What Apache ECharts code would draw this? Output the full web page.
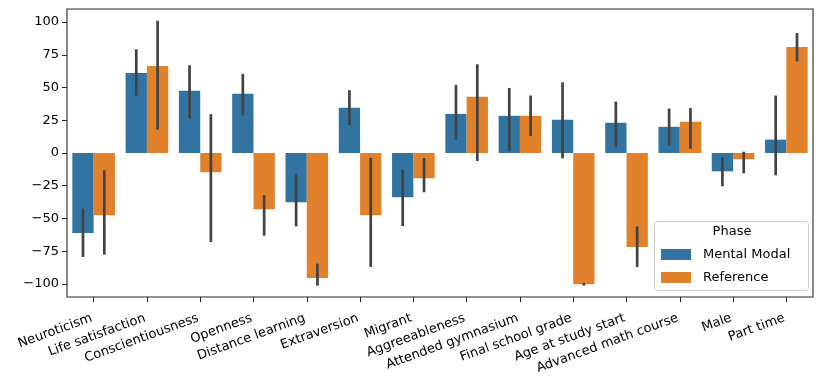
<!DOCTYPE html>
<html><head><meta charset="utf-8">
<script src="https://cdn.jsdelivr.net/npm/echarts@6/dist/echarts.min.js"></script>
<style>html,body{margin:0;padding:0;background:#fff}#c{width:816px;height:379px}</style>
</head><body><div id="c"></div>
<script>
const categories = ["Neuroticism","Life satisfaction","Conscientiousness","Openness","Distance learning","Extraversion","Migrant","Aggreeableness","Attended gymnasium","Final school grade","Age at study start","Advanced math course","Male","Part time"];
const mentalModal = [-61.2, 61.2, 47.5, 45.2, -37.6, 34.5, -33.8, 29.9, 28.4, 25.4, 23.1, 20.0, -14.0, 10.2];
const mentalLow   = [-79.4, 43.7, 26.4, 28.7, -56.1, 21.3, -55.8, 10.2, 1.3, -4.1, 4.3, 5.8, -25.4, -17.0];
const mentalHigh  = [-42.5, 79.2, 67.0, 60.4, -16.0, 48.0, -12.7, 52.0, 49.7, 54.0, 39.3, 34.0, -3.3, 43.9];
const reference   = [-47.5, 66.5, -14.7, -42.9, -95.4, -47.5, -19.3, 42.9, 28.4, -100.3, -71.8, 23.9, -4.8, 81.0];
const refLow      = [-77.7, 17.8, -68.0, -63.2, -101.3, -87.0, -30.0, -6.1, 12.9, -101.3, -87.0, 3.3, -15.5, 70.0];
const refHigh     = [-13.2, 101.0, 29.7, -32.2, -84.5, -3.6, -3.8, 67.8, 43.9, -99.2, -56.1, 34.3, 1.0, 91.6];
const yTicks = [-100, -75, -50, -25, 0, 25, 50, 75, 100];
const seriesNames = ["Mental Modal", "Reference"];

const FONT = "DejaVu Sans";
const chart = echarts.init(document.getElementById('c'), null, {renderer: 'canvas'});

function errSeries(low, high, side) {
  return {
    type: 'custom',
    silent: true,
    z: 5,
    data: low.map((l, i) => [i, l, high[i]]),
    encode: {x: 0, y: [1, 2]},
    renderItem: function (params, api) {
      const i = api.value(0);
      const w = api.size([1, 0])[0];
      const p1 = api.coord([i, api.value(1)]);
      const p2 = api.coord([i, api.value(2)]);
      const x = p1[0] + side * 0.2 * w;
      return {
        type: 'line',
        shape: {x1: x, y1: p1[1], x2: x, y2: p2[1]},
        style: {stroke: '#424242', lineWidth: 2.7}
      };
    }
  };
}

chart.setOption({
  animation: false,
  textStyle: {fontFamily: FONT},
  grid: {left: 67, right: 3, top: 9, bottom: 82, show: true, borderColor: '#262626', borderWidth: 1.1, backgroundColor: 'transparent'},
  xAxis: {
    type: 'category',
    data: categories,
    axisLine: {show: false, onZero: false},
    axisTick: {show: true, alignWithLabel: true, length: 5, lineStyle: {color: '#262626', width: 1}},
    axisLabel: {rotate: 20, fontSize: 13, color: '#000', fontFamily: FONT, margin: 20, interval: 0, padding: [0, 2, 0, 0]}
  },
  yAxis: {
    type: 'value',
    min: -110, max: 110,
    splitLine: {show: false},
    axisLine: {show: false},
    axisTick: {show: true, length: 5, customValues: yTicks, lineStyle: {color: '#262626', width: 1}},
    axisLabel: {fontSize: 13, color: '#000', fontFamily: FONT, margin: 8, customValues: yTicks,
      formatter: v => v < 0 ? '\u2212' + Math.abs(v) : String(v)}
  },
  legend: {
    orient: 'vertical',
    left: 661, top: 248, padding: 0,
    itemWidth: 30, itemHeight: 11, itemGap: 10,
    icon: 'rect',
    textStyle: {fontSize: 13, color: '#000', fontFamily: FONT, padding: [0, 0, 0, 7]},
    data: seriesNames,
    z: 10
  },
  graphic: [
    {type: 'rect', z: 8, shape: {x: 654.5, y: 221.5, width: 154, height: 69, r: 3}, style: {fill: 'rgba(255,255,255,0.8)', stroke: '#cccccc', lineWidth: 1}},
    {type: 'text', z: 9, x: 732, y: 232, style: {text: 'Phase', fontSize: 13, fontFamily: FONT, fill: '#000', align: 'center', verticalAlign: 'middle'}}
  ],
  series: [
    {name: seriesNames[0], type: 'bar', data: mentalModal, itemStyle: {color: '#3274a1'}, barCategoryGap: '20%', barGap: '0%'},
    {name: seriesNames[1], type: 'bar', data: reference, itemStyle: {color: '#e1812c'}, barCategoryGap: '20%', barGap: '0%'},
    errSeries(mentalLow, mentalHigh, -1),
    errSeries(refLow, refHigh, 1)
  ]
});
</script></body></html>
